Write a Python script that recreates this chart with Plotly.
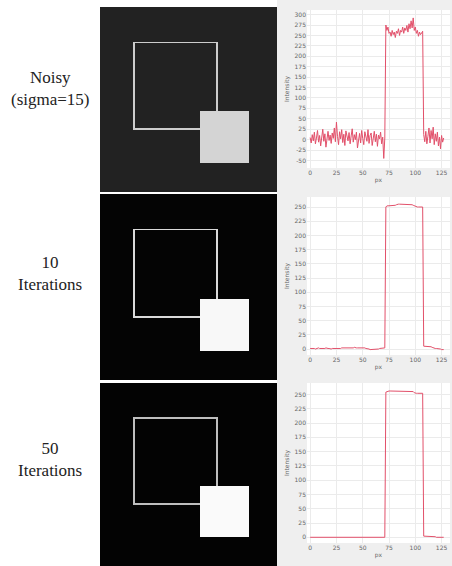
import numpy as np
import plotly.graph_objects as go

# ---------------- data ----------------
PIXEL = list(range(128))

NOISY = [
    5, -8, 12, -3, 18, -10, 4, 22, -6, 10,
    -15, 8, 25, -4, 14, -18, 6, 20, -2, 11,
    -9, 16, 3, 28, -5, 42, 8, -12, 19, 2,
    24, -7, 13, -14, 21, 5, -3, 17, -10, 9,
    26, -6, 12, 0, 18, -20, 7, 15, -8, 22,
    3, -12, 19, 6, -4, 24, -9, 10, 16, -14,
    8, 20, -5, 13, -16, 11, 2, 18, -10, 6,
    -45, 4,
    275, 262, 270, 255, 258, 248, 262, 252, 258, 245,
    260, 255, 266, 250, 262, 258, 270, 255, 268, 262,
    274, 258, 278, 266, 285, 268, 292, 262, 270, 255,
    262, 248, 258, 252, 256, 260,
    12, -5, 20, -10, 8, 28, -8, 22, 2, 30,
    -12, 14, -4, 18, -15, 6, -22, 10, -6, 4,
]

ITER10 = [
    1, 1, 2, 1, 1, 0, 1, 1, 2, 1,
    1, 1, 0, 1, 1, 2, 1, 1, 1, 0,
    0, 1, 1, 1, 0, 1, 0, 0, 1, 1,
    2, 2, 1, 2, 2, 2, 1, 2, 2, 2,
    2, 2, 3, 2, 2, 2, 2, 3, 2, 2,
    2, 2, 2, 1, 1, 0, 0, -1, -1, -1,
    -1, -1, -1, -1, 0, 0, 1, 1, 1, 1,
    2, 2,
    250, 252, 252, 252, 252, 252, 252, 252, 252, 253,
    254, 255, 255, 255, 255, 255, 255, 255, 255, 255,
    255, 255, 255, 255, 255, 254, 253, 252, 251, 251,
    250, 250, 250, 250, 250, 250,
    5, 5, 5, 5, 5, 4, 4, 4, 3, 2,
    2, 1, 1, 1, 0, 0, 0, -1, -1, -1,
]

ITER50 = [
    0, 0, 0, 0, 0, 0, 0, 0, 0, 0,
    0, 0, 0, 0, 0, 0, 0, 0, 0, 0,
    0, 0, 0, 0, 0, 0, 0, 0, 0, 0,
    0, 0, 0, 0, 0, 0, 0, 0, 0, 0,
    0, 0, 0, 0, 0, 0, 0, 0, 0, 0,
    0, 0, 0, 0, 0, 0, 0, 0, 0, 0,
    0, 0, 0, 0, 0, 0, 0, 0, 0, 0,
    0, 0,
    254, 255, 255, 256, 256, 256, 256, 256, 256, 256,
    256, 256, 256, 256, 256, 256, 256, 256, 256, 256,
    256, 256, 256, 256, 256, 256, 255, 253, 252, 252,
    252, 252, 252, 252, 252, 252,
    2, 2, 2, 2, 2, 1, 1, 1, 1, 1,
    1, 1, 0, 0, 0, 0, 0, 0, 0, 0,
]

PROFILES = [NOISY, ITER10, ITER50]
ROW_LABELS = ["Noisy<br>(sigma=15)", "10<br>Iterations", "50<br>Iterations"]
X_TICKS = [0, 25, 50, 75, 100, 125]
Y_TICKS_NOISY = [-50, -25, 0, 25, 50, 75, 100, 125, 150, 175, 200, 225, 250, 275, 300]
Y_TICKS = [0, 25, 50, 75, 100, 125, 150, 175, 200, 225, 250]
X_TITLE = "px"
Y_TITLE = "Intensity"

# synthetic test image geometry (pixel indices) and grey levels per row
IMG_SIZE = 128
OUTLINE_BOX = [24, 24, 84, 84]    # x0, y0, x1, y1
SQUARE_BOX = [72, 72, 107, 107]   # x0, y0, x1, y1
BG_LEVEL = [34, 4, 3]
OUTLINE_LEVEL = [205, 218, 190]
SQUARE_LEVEL = [212, 248, 250]

# ---------------- layout geometry (px of a 452x566 canvas) ----------------
W, H = 452, 566
IMG_X = (100, 277)
IMG_Y = [(7, 192), (194, 380), (383, 566)]
PLOT_X = (307, 450)
PLOT_Y = [(10, 168), (197, 355), (383, 543)]
Y_RANGES = [[-68, 311], [-10.5, 267.6], [-10, 270]]
LABEL_Y = [88, 273, 459]

LINE_COLOR = "#e2506a"
GRID_COLOR = "#ebebeb"
TICK_FONT = dict(family="DejaVu Sans", size=6, color="#666666")


def xdom(a):
    return [a[0] / W, a[1] / W]


def ydom(a):
    return [1 - a[1] / H, 1 - a[0] / H]


def make_image(i):
    z = np.full((IMG_SIZE, IMG_SIZE), BG_LEVEL[i], dtype=float)
    x0, y0, x1, y1 = OUTLINE_BOX
    ol = OUTLINE_LEVEL[i]
    z[y0, x0:x1 + 1] = ol
    z[y1, x0:x1 + 1] = ol
    z[y0:y1 + 1, x0] = ol
    z[y0:y1 + 1, x1] = ol
    sx0, sy0, sx1, sy1 = SQUARE_BOX
    z[sy0:sy1 + 1, sx0:sx1 + 1] = SQUARE_LEVEL[i]
    return z


fig = go.Figure()
layout = dict(
    width=W, height=H,
    margin=dict(l=0, r=0, t=0, b=0),
    paper_bgcolor="#efefef",
    plot_bgcolor="white",
    showlegend=False,
    shapes=[dict(type="rect", xref="paper", yref="paper", x0=0, x1=IMG_X[1] / W,
                 y0=0, y1=1, fillcolor="white", line=dict(width=0), layer="below")],
    annotations=[],
)

for i in range(3):
    ia = 2 * i + 1
    pa = 2 * i + 2
    # image panel
    fig.add_trace(go.Heatmap(
        z=make_image(i), x=list(range(IMG_SIZE)), y=list(range(IMG_SIZE)),
        colorscale=[[0, "black"], [1, "white"]], zmin=0, zmax=255,
        showscale=False, hoverinfo="skip",
        xaxis=f"x{ia}", yaxis=f"y{ia}",
    ))
    layout[f"xaxis{ia}"] = dict(domain=xdom(IMG_X), range=[-0.5, IMG_SIZE - 0.5],
                                visible=False, anchor=f"y{ia}")
    layout[f"yaxis{ia}"] = dict(domain=ydom(IMG_Y[i]), range=[IMG_SIZE - 0.5, -0.5],
                                visible=False, anchor=f"x{ia}")

    # profile panel
    fig.add_trace(go.Scatter(
        x=PIXEL, y=PROFILES[i], mode="lines",
        line=dict(color=LINE_COLOR, width=1),
        xaxis=f"x{pa}", yaxis=f"y{pa}", hoverinfo="skip",
    ))
    yt = Y_TICKS_NOISY if i == 0 else Y_TICKS
    layout[f"xaxis{pa}"] = dict(
        domain=xdom(PLOT_X), range=[-3, 133], anchor=f"y{pa}",
        tickmode="array", tickvals=X_TICKS, ticktext=[str(v) for v in X_TICKS],
        showgrid=True, gridcolor=GRID_COLOR, gridwidth=1, zeroline=False,
        showline=False, ticks="", tickfont=TICK_FONT,
        title=dict(text=X_TITLE, font=TICK_FONT, standoff=2),
    )
    layout[f"yaxis{pa}"] = dict(
        domain=ydom(PLOT_Y[i]), range=Y_RANGES[i], anchor=f"x{pa}",
        tickmode="array", tickvals=yt, ticktext=[str(v) for v in yt],
        showgrid=True, gridcolor=GRID_COLOR, gridwidth=1, zeroline=False,
        showline=False, ticks="", tickfont=TICK_FONT,
        title=dict(text=Y_TITLE, font=TICK_FONT, standoff=4),
    )

    layout["annotations"].append(dict(
        text=ROW_LABELS[i], xref="paper", yref="paper",
        x=50 / W, y=1 - LABEL_Y[i] / H, xanchor="center", yanchor="middle",
        showarrow=False, align="center",
        font=dict(family="Liberation Serif", size=17, color="#222222"),
    ))

fig.update_layout(**layout)
fig.write_html("out.html", config={"displayModeBar": False},
               post_script="document.body.style.margin='0';")
